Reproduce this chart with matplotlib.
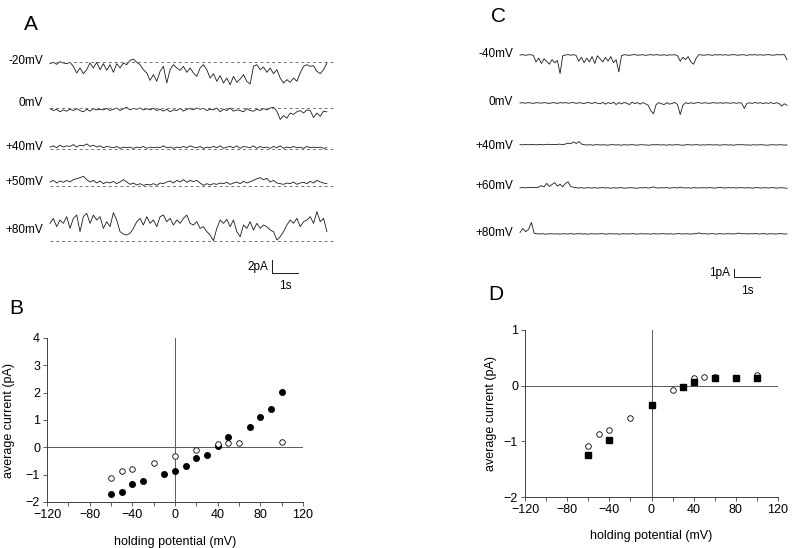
import matplotlib
matplotlib.use('Agg')
import matplotlib.pyplot as plt
import numpy as np
from matplotlib.ticker import MultipleLocator

plt.rcParams['font.family'] = ['Liberation Sans', 'DejaVu Sans']

W, H = 800, 548

# ---- panel A traces (pA, relative to each dashed baseline) ----
a_labels = ['-20mV', '0mV', '+40mV', '+50mV', '+80mV']
a_m20 = [-0.26, -0.05, -0.37, 0.05, -0.16, -0.26, -0.05, -0.68, -1.73, -0.94, -1.84, -1.21,
         -0.16, -0.94, -0.05, -1.21, -0.26, -1.31, -0.42, -1.63, -0.26, -0.94, -0.16, -0.42,
         0.26, 0.47, -0.05, -0.42, -1.21, -1.73, -2.89, -1.99, -3.04, -1.47, -0.68, -3.31,
         -1.21, -0.42, -0.94, -1.31, -0.68, -1.63, -0.94, -1.73, -2.26, -0.94, -0.42, -1.21,
         -2.52, -1.84, -3.04, -2.15, -3.31, -2.52, -3.57, -2.26, -3.2, -2.68, -1.99, -3.04,
         -3.46, -0.68, -0.42, -1.21, -0.79, -1.63, -0.94, -1.84, -1.21, -2.52, -3.31, -2.78,
         -3.2, -2.52, -3.04, -1.73, -0.68, -0.42, -0.68, -0.58, -1.47, -1.84, -1.21, -0.16]
a_0 = [-0.1, -0.4, -0.2, -0.6, -0.3, -0.5, -0.2, -0.4, -0.1, -0.4, -0.6, -0.2, -0.5, -0.1,
       -0.3, -0.2, -0.3, -0.05, -0.4, -0.2, 0, -0.4, -0.1, 0.1, -0.3, -0.05, -0.2, 0, -0.3,
       -0.1, -0.3, -0.05, -0.4, -0.2, -0.5, -0.2, -0.6, -0.3, -0.4, -0.05, -0.5, -0.2, -0.1,
       -0.3, 0, -0.2, -0.05, -0.4, -0.2, -0.3, 0, -0.6, -0.2, -0.4, 0, -0.5, -0.3, -0.4, -0.6,
       -0.1, -0.4, -0.5, -0.2, -0.4, -0.1, -0.3, 0, 0.1, -0.5, -1.8, -1.2, -1.6, -0.8, -1.0,
       -0.6, -0.4, -0.8, -0.3, -0.4, -1.5, -0.8, -1.3, -0.5, -0.6]
a_40 = [0.3, 0.5, 0.2, 0.6, 0.3, 0.5, 0.4, 0.7, 0.3, 0.6, 0.5, 0.8, 0.4, 0.6, 0.3, 0.5, 0.2,
        0.4, 0.3, 0.2, 0.4, 0.1, 0.3, 0.2, 0.3, 0.1, 0.3, 0.2, 0.4, 0.1, 0.3, 0.2, 0.3, 0.2,
        0.5, 0.2, 0.3, 0.1, 0.3, 0.2, 0.4, 0.2, 0.5, 0.3, 0.2, 0.4, 0.1, 0.3, 0.2, 0.4, 0.2,
        0.5, 0.1, 0.3, 0.4, 0.2, 0.5, 0.1, 0.4, 0.3, 0.2, 0.5, 0.1, 0.4, 0.2, 0.3, 0.1, 0.4,
        0.2, 0.5, 0.1, 0.3, 0.2, 0.4, 0.2, 0.3, 0.1, 0.4, 0.2, 0.3, 0.2, 0.3, 0.1, 0.2]
a_50 = [0.63, 0.89, 0.47, 0.79, 0.58, 0.89, 0.63, 1.0, 1.15, 1.31, 1.52, 1.0, 0.63, 0.89,
        0.47, 0.79, 0.37, 0.63, 0.47, 0.73, 0.37, 0.63, 1.0, 0.63, 0.26, 0.47, 0.16, 0.37,
        0.1, 0.26, 0.16, 0.37, 0.1, 0.47, 0.37, 0.63, 0.79, 0.47, 0.89, 0.63, 1.0, 0.58,
        0.89, 0.68, 0.89, 0.47, 0.1, 0.37, 0.16, 0.37, 0.26, 0.47, 0.37, 0.58, 0.26, 0.47,
        0.63, 0.37, 0.73, 0.47, 0.68, 0.89, 1.15, 1.31, 1.0, 1.21, 0.63, 0.89, 0.47, 0.37,
        0.26, 0.47, 0.37, 0.63, 0.26, 0.47, 0.58, 0.37, 0.73, 0.47, 0.89, 0.63, 0.47, 0.37]
a_80 = [2.78, 3.57, 2.26, 3.31, 2.78, 3.83, 1.99, 3.57, 4.09, 1.47, 3.83, 4.36, 2.78, 4.09,
        3.31, 3.83, 1.99, 3.04, 2.26, 4.46, 3.31, 1.47, 1.1, 0.94, 1.21, 1.99, 3.04, 3.57,
        2.52, 3.83, 2.78, 3.31, 2.26, 3.83, 4.09, 3.04, 3.57, 2.52, 3.31, 2.78, 3.57, 4.09,
        2.78, 2.52, 3.04, 1.99, 2.26, 1.47, 0.94, 0.05, 1.99, 3.31, 2.78, 3.41, 2.26, 3.31,
        1.47, 0.68, 2.52, 1.99, 3.04, 1.73, 2.78, 1.99, 2.52, 2.26, 1.73, 1.47, 0.16, 0.68,
        1.47, 2.52, 3.31, 2.78, 3.57, 2.26, 3.04, 3.31, 3.83, 2.78, 4.62, 3.04, 3.57, 1.47]
a_traces = [a_m20, a_0, a_40, a_50, a_80]

# ---- panel C traces ----
c_labels = ['-40mV', '0mV', '+40mV', '+60mV', '+80mV']
c_m40 = [0, 0.05, -0.04, 0.02, 0.04, -0.05,
         -0.9, -0.4, -1.1, -0.5, -0.8, -1.2, -0.6, -1.0, -0.7, -2.4, -0.1,
         0, 0.05, -0.03, 0.04, -0.05,
         -0.8, -0.3, -1.0, -0.4, -0.9, -0.2, -1.1, -0.1, -0.5, -0.9, -0.3, -0.8, -0.2, -1.0,
         -0.6, -2.2, -0.1,
         0.04, 0, -0.05, 0.03, 0.05, -0.03, 0, 0.04, -0.05, 0.02, 0.04, -0.02, 0.05, 0,
         -0.03, 0.04, -0.05, 0.02, 0, 0.04,
         -0.1, -0.8, -0.3, -0.6, -0.2, -0.9, -1.2, -0.4,
         0.05, 0, -0.03, 0.04, 0.02, -0.05, 0.04, 0, 0.05, -0.02, 0.04, -0.03, 0.02, 0.05,
         0, -0.03, 0.04, 0.02, -0.05, 0.04, 0, 0.05, -0.02, 0.04, -0.03, 0.02, 0.05, 0,
         -0.03, 0.04, 0.02, 0.03, 0.05,
         -0.6]
c_0 = [0, 0.04, -0.03, 0.05, 0, -0.05, 0.04, 0.02, -0.03, 0.05, 0, -0.06, 0.04, 0.02,
       -0.05, 0.04, 0, 0.05, -0.03, 0.02, 0.06, -0.05, 0.04, 0, -0.07, 0.05, 0.03, -0.06,
       0.07, -0.03,
       -0.1, 0.08, -0.15, 0.05, -0.08, 0.1, -0.2, 0.05, -0.12, 0.08, -0.05, -0.2, 0.1,
       -0.08, 0.05, -0.15, 0.06, -0.1,
       -0.3, -1.0, -1.4, -0.2, 0.05,
       -0.1, -0.2, 0.05, -0.15, -0.05, 0.08,
       -0.2, -1.5, -0.3,
       0.05, -0.08, 0.04, -0.06, 0.03, 0.05, -0.04, 0.03, 0, -0.05, 0.04, 0.02, -0.03,
       0.04, -0.04, 0.03, 0, -0.03, 0.05, -0.04, 0.03, 0,
       -0.7,
       -0.05, 0.03, -0.06, 0.08, -0.04, 0.05, -0.08, 0.03, -0.05, 0.06, -0.1, 0.04, -0.05,
       -0.4, -0.1, -0.3]
c_40 = [0.05, 0.02, 0.06, 0.03, 0.08, 0.04, 0.02, 0.07, 0.03, 0.05, 0.1, 0.04, 0.08, 0.05,
        0.12, 0.06, 0.1,
        0.25, 0.15, 0.4, 0.2, 0.45, 0.1,
        0.03, 0, 0.04, -0.03, 0.05, 0.02, 0, 0.04, -0.03, 0.02, 0.05, 0, 0.03, -0.03, 0.04,
        0, 0.02, 0.05, -0.02, 0, 0.04, 0.02, 0, -0.03, 0.04, 0.02, 0.05, 0, 0.03, -0.03,
        0.04, 0, 0.02, 0.05, 0, -0.03, 0.03, 0.04, 0, 0.02, 0.05, -0.02, 0.02, 0, 0.04,
        0.02, 0, 0.04, -0.03, 0.02, 0.04, 0, 0.02, -0.03, 0.04, 0.02, 0.05, 0, 0.02, -0.03,
        0.04, 0, 0.02, 0.04, 0, -0.03, 0.02, 0.04, 0, 0.02, 0.03, -0.02, 0.01]
c_60 = [0.03, 0.05, 0.02, 0.08, 0.04, 0.1, 0.05, 0.12,
        0.3, 0.15, 0.6, 0.2, 0.45, 0.7, 0.25, 0.5, 0.15, 0.6, 0.8, 0.2, 0.1,
        0.04, 0, 0.05, -0.03, 0.04, 0.02, 0, 0.05, -0.02, 0.03, 0.05, 0, 0.03, -0.03, 0.04,
        0, 0.02, 0.05, -0.02, 0, 0.04, 0.02, 0, -0.03, 0.04, 0.02, 0.05, 0, 0.03, 0.15,
        0.02, 0, 0.04, 0.02, 0.05, -0.02, 0.03, 0.04, 0, 0.12, 0.03, 0, 0.04, -0.02, 0.05,
        0.02, 0, 0.04, 0.03, 0, 0.05, 0.02, -0.02, 0.04, 0.1, 0.02, 0, 0.05, 0.02, 0.04,
        0, 0.03, 0.05, 0, 0.02, 0.04, -0.02, 0.03, 0.05, 0, 0.02, 0.04, 0, 0.03, 0.05, -0.02,
        0.02, 0.04, 0, -0.04]
c_80 = [0.2, 0.7, 0.3, 0.6, 1.5, 0.1,
        0.03, 0, 0.04, -0.03, 0.02, 0.04, 0, 0.03, -0.02, 0.04, 0.02, 0, 0.05, -0.02, 0.03,
        0.04, 0, 0.02, -0.03, 0.04, 0.02, 0, 0.03, 0.05, -0.02, 0.02, 0.04, 0, 0.03, -0.03,
        0.04, 0.02, 0, 0.03, 0.05, -0.02, 0.02, 0.04, 0, 0.03, -0.02, 0.04, 0.02, 0, 0.05,
        0.02, 0, 0.04, -0.02, 0.03, 0.05, 0, 0.02, 0.04, -0.02, 0.03, 0.05, 0.15, 0.02,
        0.04, 0, 0.03, 0.05, -0.02, 0.04, 0.02, 0, 0.05, 0.03, 0, 0.04, 0.12, 0.03, 0.05,
        0, 0.04, 0.02, 0.06, 0, 0.03, 0.05, -0.02, 0.04, 0.02, 0, 0.03, 0.05, 0, 0.02]
c_traces = [c_m40, c_0, c_40, c_60, c_80]

# ---- panels B and D: I-V data ----
b_v_filled = [-60, -50, -40, -30, -10, 0, 10, 20, 30, 40, 50, 70, 80, 90, 100]
b_i_filled = [-1.70, -1.62, -1.35, -1.24, -0.96, -0.85, -0.67, -0.39, -0.27, 0.05, 0.37,
              0.74, 1.11, 1.40, 2.02]
b_v_open = [-60, -50, -40, -20, 0, 20, 40, 50, 60, 100]
b_i_open = [-1.11, -0.88, -0.79, -0.57, -0.33, -0.09, 0.12, 0.15, 0.15, 0.18]

d_v_square = [-60, -40, 0, 30, 40, 60, 80, 100]
d_i_square = [-1.24, -0.97, -0.34, -0.02, 0.07, 0.14, 0.14, 0.13]
d_v_open = [-60, -50, -40, -20, 20, 40, 50, 60, 100]
d_i_open = [-1.09, -0.87, -0.79, -0.58, -0.08, 0.13, 0.15, 0.16, 0.20]


fig = plt.figure(figsize=(W / 100, H / 100), dpi=100)


def px_axes(x0, y0, x1, y1):
    return fig.add_axes([x0 / W, 1 - y1 / H, (x1 - x0) / W, (y1 - y0) / H])


def trace_panel(box, t0_px, base_px, px_per_pa, traces, labels, label_px, duration,
                dashed, bar_px, bar_pa, bar_text):
    x0, y0, x1, y1 = box
    ax = px_axes(x0, y0, x1, y1)
    ax.set_xlim((x0 - t0_px) / 26.0, (x1 - t0_px) / 26.0)
    top = base_px[0]
    ax.set_ylim((top - y1) / px_per_pa, (top - y0) / px_per_pa)
    ax.axis('off')
    for vals, b, lab, ly in zip(traces, base_px, labels, label_px):
        off = (top - b) / px_per_pa
        t = np.linspace(0, duration, len(vals))
        ax.plot(t, np.array(vals) + off, color='#1a1a1a', lw=0.6)
        if dashed:
            ax.plot([0, duration + 0.25], [off, off], color='0.45', lw=0.7,
                    dashes=(3, 3))
        ax.text(-0.27, (top - ly) / px_per_pa, lab, ha='right', va='center', fontsize=8.5)
    # scale bar
    bx, by = bar_px
    tb = (bx - t0_px) / 26.0
    yb = (top - by) / px_per_pa
    ax.plot([tb, tb, tb + 1], [yb + bar_pa, yb, yb], color='#1a1a1a', lw=0.7)
    ax.text(tb - 0.15, yb + bar_pa / 2, bar_text, ha='right', va='center', fontsize=8.5)
    ax.text(tb + 0.5, yb - 0.6 * px_per_pa / px_per_pa - 3.5 / px_per_pa * 1.0, '1s',
            ha='center', va='top', fontsize=8.5)
    return ax


trace_panel((40, 35, 340, 290), 50, [62, 108, 149, 186, 241], 6.35, a_traces, a_labels,
            [61, 103, 147, 182, 230], 10.65, True, (272, 273), 2, '2pA')
trace_panel((515, 35, 795, 300), 520, [55, 103, 145, 188, 234], 7.7, c_traces, c_labels,
            [54, 102, 146, 186, 233], 10.27, False, (734, 277), 1, '1pA')


def iv_panel(box, ylim, yticks):
    ax = px_axes(*box)
    ax.set_xlim(-120, 120)
    ax.set_ylim(*ylim)
    ax.axhline(0, color='0.35', lw=0.7, zorder=1)
    ax.axvline(0, color='0.35', lw=0.7, zorder=1)
    for s in ['top', 'right']:
        ax.spines[s].set_visible(False)
    for s in ['left', 'bottom']:
        ax.spines[s].set_linewidth(0.7)
        ax.spines[s].set_color('0.25')
    ax.set_xticks([-120, -80, -40, 0, 40, 80, 120])
    ax.xaxis.set_minor_locator(MultipleLocator(20))
    ax.set_yticks(yticks)
    ax.tick_params(which='both', direction='out', length=3, width=0.6, labelsize=9,
                   pad=2, color='0.25')
    ax.set_xlabel('holding potential (mV)', fontsize=9)
    ax.set_ylabel('average current (pA)', fontsize=9)
    return ax


axb = iv_panel((47, 338, 303, 502), (-2, 4), [-2, -1, 0, 1, 2, 3, 4])
axb.plot(b_v_filled, b_i_filled, 'o', color='black', ms=4, zorder=3)
axb.plot(b_v_open, b_i_open, 'o', mfc='white', mec='black', mew=0.6, ms=4, zorder=3)
axb.xaxis.set_label_coords(0.5, -0.21)
axb.yaxis.set_label_coords(-0.125, 0.5)

axd = iv_panel((525, 330, 778, 497), (-2, 1), [-2, -1, 0, 1])
axd.plot(d_v_open, d_i_open, 'o', mfc='white', mec='black', mew=0.6, ms=4, zorder=3)
axd.plot(d_v_square, d_i_square, 's', color='black', ms=4.2, zorder=3)
axd.xaxis.set_label_coords(0.5, -0.2)
axd.yaxis.set_label_coords(-0.11, 0.5)

for letter, x, y in [('A', 31, 24), ('B', 16, 308), ('C', 498, 17), ('D', 496, 294)]:
    fig.text(x / W, 1 - y / H, letter, ha='center', va='center', fontsize=15)

fig.savefig('out.png', dpi=100)
